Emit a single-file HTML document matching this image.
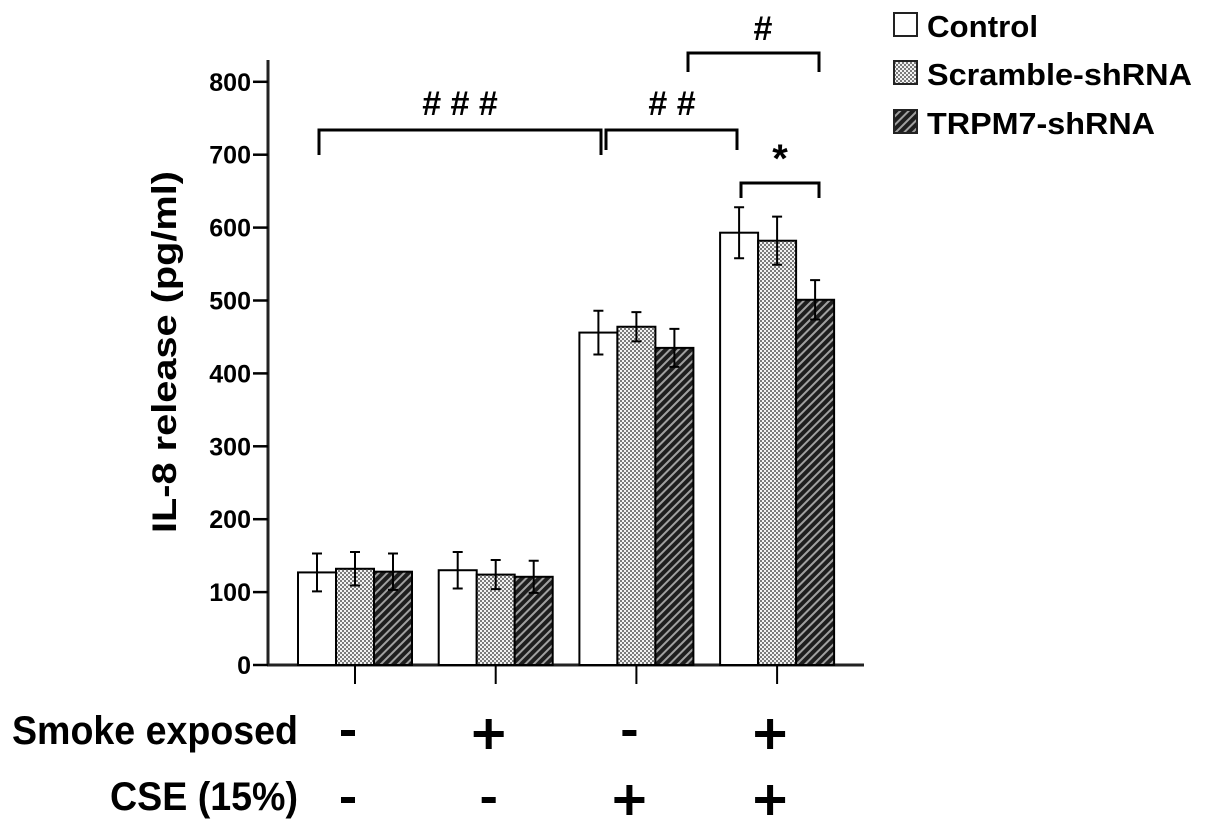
<!DOCTYPE html>
<html><head><meta charset="utf-8"><style>
body{margin:0;background:#fff;}
svg text{font-family:"Liberation Sans",Arial,sans-serif;font-weight:bold;fill:#000;}
</style></head><body>
<svg width="1205" height="829" xmlns="http://www.w3.org/2000/svg">
<defs>
<pattern id="dots" width="4" height="4" patternUnits="userSpaceOnUse">
<rect width="4" height="4" fill="#f2f2f2"/><rect width="2" height="2" fill="#7a7a7a"/><rect x="2" y="2" width="2" height="2" fill="#7a7a7a"/>
</pattern>
<pattern id="hatch" width="6" height="6" patternUnits="userSpaceOnUse" patternTransform="rotate(45)">
<rect width="6" height="6" fill="#1e1e1e"/><rect x="0" width="2" height="6" fill="#a0a0a0"/>
</pattern>
</defs>
<g id="plot"></g>
</svg>
<script>
const groups=["g1","g2","g3","g4"];
const seriesNames=["Control","Scramble-shRNA","TRPM7-shRNA"];
const controlVals=[127,130,456,593];
const scrambleVals=[132,124,464,582];
const trpmVals=[128,121,435,501];
const controlErr=[26,25,30,35];
const scrambleErr=[23,20,20,33];
const trpmErr=[25,22,26,27];
const yTicks=[0,100,200,300,400,500,600,700,800];
const smokeSigns=["-","+","-","+"];
const cseSigns=["-","-","+","+"];

const NS="http://www.w3.org/2000/svg";
const g=document.getElementById('plot');
function el(t,a,txt){const e=document.createElementNS(NS,t);for(const k in a)e.setAttribute(k,a[k]);if(txt!==undefined)e.textContent=txt;g.appendChild(e);return e;}
const y0=665,pxPer=72.9/100;
const Y=v=>y0-v*pxPer;
const X=i=>355+i*140.7;
const bw=38;
const fills=["#fff","url(#dots)","url(#hatch)"];
const vals=[controlVals,scrambleVals,trpmVals];
const errs=[controlErr,scrambleErr,trpmErr];

let e=el('line',{x1:268,y1:60,x2:268,y2:y0+1,stroke:'#222','stroke-width':3});

e=el('line',{x1:267,y1:y0,x2:864,y2:y0,stroke:'#222','stroke-width':3});

yTicks.forEach(t=>{
 let l=el('line',{x1:253,y1:Y(t),x2:268,y2:Y(t),stroke:'#000','stroke-width':2.5});
 
 let tx=el('text',{x:251,y:Y(t)+9,'text-anchor':'end','font-size':25},t);
 
});
groups.forEach((gname,i)=>{
 let t=el('line',{x1:X(i),y1:y0,x2:X(i),y2:y0+19,stroke:'#000','stroke-width':2});
 
 for(let s=0;s<3;s++){
  const x=X(i)-bw*1.5+s*bw, v=vals[s][i], er=errs[s][i];
  let r=el('rect',{x:x,y:Y(v),width:bw,height:y0-Y(v),fill:fills[s],stroke:'#000','stroke-width':2});
  
  const cx=x+bw/2;
  let eb=el('path',{d:`M${cx-5} ${Y(v+er)}H${cx+5}M${cx} ${Y(v+er)}V${Y(v-er)}M${cx-5} ${Y(v-er)}H${cx+5}`,stroke:'#000','stroke-width':2,fill:'none'});
  
 }
 const sx=X(i)-7;
 let a=smokeSigns[i]==='-'?el('rect',{x:sx-7,y:730,width:14,height:6,fill:'#000'}):el('path',{d:`M${sx-15} 734H${sx+15}M${sx} 719V749`,stroke:'#000','stroke-width':6});
 
 let b=cseSigns[i]==='-'?el('rect',{x:sx-7,y:797,width:14,height:6,fill:'#000'}):el('path',{d:`M${sx-15} 800H${sx+15}M${sx} 785V815`,stroke:'#000','stroke-width':6});
 
});
[[319,601,130,155,"# # #",460,115],[606,737,130,150,"# #",672,115],[688,819,53,72,"#",763,40],[741,819,183,198,"*",780,172]].forEach(s=>{
 let p=el('path',{d:`M${s[0]} ${s[3]}V${s[2]}H${s[1]}V${s[3]}`,stroke:'#000','stroke-width':3,fill:'none'});
 
 let t=el('text',{x:s[5],y:s[6],'text-anchor':'middle','font-size':s[4]==='*'?40:34},s[4]);
 
});
const legY=[13,61,110], legW=[111,265,228];
seriesNames.forEach((n,s)=>{
 const yy=legY[s];
 let r=el('rect',{x:894,y:yy,width:23,height:23,fill:fills[s],stroke:'#222','stroke-width':2});
 
 let t=el('text',{x:927,y:yy+24,'font-size':31,textLength:legW[s],lengthAdjust:'spacingAndGlyphs'},n);
 
});
let yt=el('text',{x:0,y:0,'text-anchor':'middle','font-size':34,textLength:362,lengthAdjust:'spacingAndGlyphs',transform:'translate(176,352) rotate(-90)'},'IL-8 release (pg/ml)');

let r1=el('text',{x:12,y:744,'font-size':40,textLength:286,lengthAdjust:'spacingAndGlyphs'},'Smoke exposed');

let r2=el('text',{x:110,y:810,'font-size':40,textLength:188,lengthAdjust:'spacingAndGlyphs'},'CSE (15%)');

</script>
</body></html>
